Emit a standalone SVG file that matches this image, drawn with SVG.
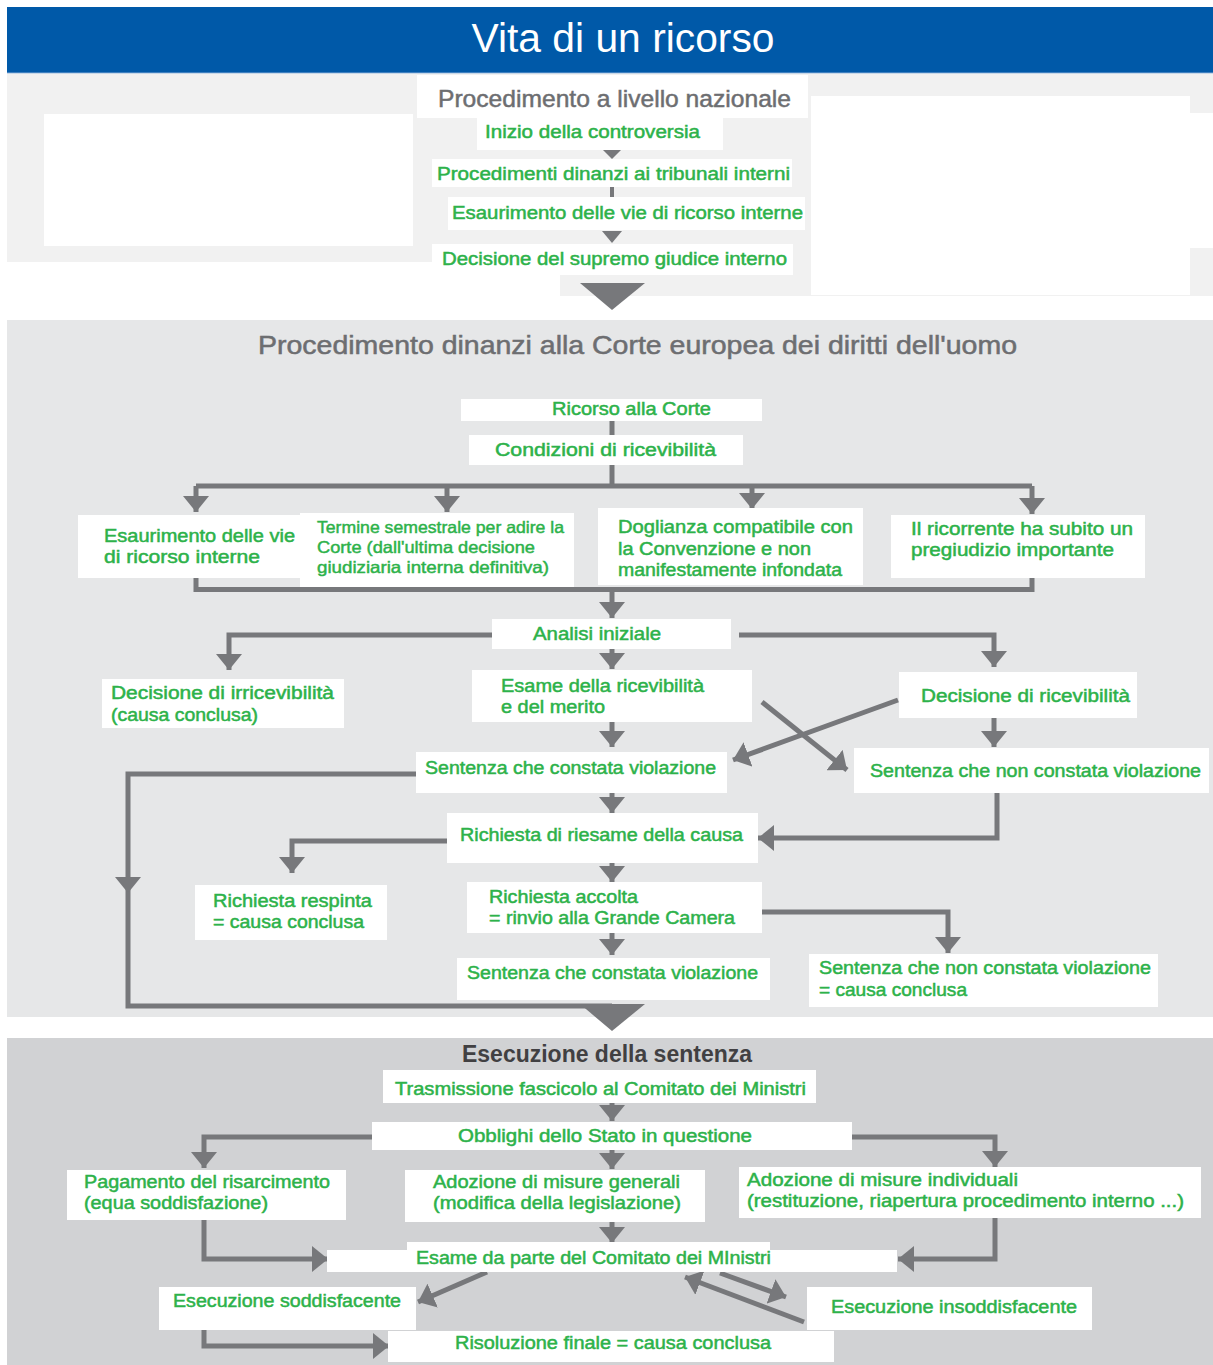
<svg xmlns="http://www.w3.org/2000/svg" width="1213" height="1365" viewBox="0 0 1213 1365">
<defs>
<style>
.box{fill:#ffffff}
.t{font-family:"Liberation Sans",Arial,sans-serif;font-size:18px;fill:#2db24a;stroke:#2db24a;stroke-width:0.5}
.ts{font-family:"Liberation Sans",Arial,sans-serif;font-size:16.5px;fill:#2db24a;stroke:#2db24a;stroke-width:0.45}
.h{font-family:"Liberation Sans",Arial,sans-serif;fill:#6d6e71;stroke:#6d6e71;stroke-width:0.5}
.c{fill:none;stroke:#77787b;stroke-width:5}
.ah{fill:#77787b}
</style>
<marker id="arr" markerUnits="userSpaceOnUse" viewBox="0 0 16 26" markerWidth="16" markerHeight="26" refX="16" refY="13" orient="auto">
<path d="M0,0 L16,13 L0,26 z" fill="#77787b"/>
</marker>
</defs>

<!-- backgrounds -->
<rect x="0" y="0" width="1213" height="1365" fill="#ffffff"/>
<rect x="7" y="7" width="1206" height="65" fill="#0059a8"/>
<rect x="7" y="72" width="1206" height="1.5" fill="#3f80c0"/>
<rect x="7" y="73.5" width="1206" height="188.5" fill="#f1f1f1"/>
<rect x="560" y="262" width="653" height="34" fill="#f1f1f1"/>
<rect x="44" y="114" width="369" height="132" fill="#ffffff"/>
<rect x="811" y="96" width="379" height="199" fill="#ffffff"/>
<rect x="1190" y="113" width="23" height="135" fill="#ffffff"/>
<rect x="7" y="320" width="1206" height="697" fill="#e6e7e8"/>
<rect x="7" y="1038" width="1206" height="327" fill="#d1d2d4"/>

<text x="623" y="52" text-anchor="middle" font-family="'Liberation Sans',Arial,sans-serif" font-size="40" fill="#ffffff" textLength="303" lengthAdjust="spacingAndGlyphs">Vita di un ricorso</text>

<!-- connectors -->
<g id="connectors">
<polygon class="ah" points="603,150 621,150 612,159"/>
<rect class="ah" x="610" y="187" width="4" height="11"/>
<polygon class="ah" points="602,231 622,231 612,243"/>
<polygon class="ah" points="580,283 645,283 612,310"/>

<path class="c" d="M612,420 V436"/>
<path class="c" d="M612,465 V486"/>
<path class="c" d="M196,486 H1032"/>
<path class="c" d="M196,486 V512" marker-end="url(#arr)"/>
<path class="c" d="M447,486 V512" marker-end="url(#arr)"/>
<path class="c" d="M752,486 V509" marker-end="url(#arr)"/>
<path class="c" d="M1032,486 V514" marker-end="url(#arr)"/>
<path class="c" d="M196,577 V589.5 H1032 V577"/>
<path class="c" d="M612,589 V618" marker-end="url(#arr)"/>
<path class="c" d="M492,635 H229 V670" marker-end="url(#arr)"/>
<path class="c" d="M739,635 H994 V667" marker-end="url(#arr)"/>
<path class="c" d="M612,648 V669" marker-end="url(#arr)"/>
<path class="c" d="M612,722 V747" marker-end="url(#arr)"/>
<path class="c" d="M994,717 V747" marker-end="url(#arr)"/>
<path class="c" d="M762,702 L847,770" marker-end="url(#arr)"/>
<path class="c" d="M898,700 L733,760" marker-end="url(#arr)"/>
<path class="c" d="M416,774 H128 V1006 H612"/>
<polygon class="ah" points="115,877 141,877 128,893"/>
<path class="c" d="M612,792 V813" marker-end="url(#arr)"/>
<path class="c" d="M997,792 V838 H758" marker-end="url(#arr)"/>
<path class="c" d="M447,841 H292 V873" marker-end="url(#arr)"/>
<path class="c" d="M612,862 V882" marker-end="url(#arr)"/>
<path class="c" d="M762,912 H948 V953" marker-end="url(#arr)"/>
<path class="c" d="M612,932 V955" marker-end="url(#arr)"/>
<polygon class="ah" points="580,1004 645,1004 612,1031"/>

<path class="c" d="M612,1102 V1121" marker-end="url(#arr)"/>
<path class="c" d="M372,1137 H204 V1168" marker-end="url(#arr)"/>
<path class="c" d="M852,1137 H995 V1167" marker-end="url(#arr)"/>
<path class="c" d="M612,1149 V1169" marker-end="url(#arr)"/>
<path class="c" d="M612,1221 V1243" marker-end="url(#arr)"/>
<path class="c" d="M204,1219 V1259 H328" marker-end="url(#arr)"/>
<path class="c" d="M995,1217 V1259 H898" marker-end="url(#arr)"/>
<path class="c" d="M487,1272 L418,1302" marker-end="url(#arr)"/>
<path class="c" d="M720,1273 L786,1297" marker-end="url(#arr)"/>
<path class="c" d="M804,1322 L685,1277" marker-end="url(#arr)"/>
<path class="c" d="M204,1329 V1346 H389" marker-end="url(#arr)"/>
</g>

<!-- Section 1 -->
<g id="head-nazionale">
<rect class="box" x="417" y="75" width="391" height="43"/>
<text class="h" x="438" y="107" font-size="24.5" textLength="353" lengthAdjust="spacingAndGlyphs">Procedimento a livello nazionale</text>
</g>
<g id="n-inizio">
<rect class="box" x="477" y="118" width="246" height="32"/>
<text class="t" x="485" y="138" textLength="215" lengthAdjust="spacingAndGlyphs">Inizio della controversia</text>
</g>
<g id="n-procedimenti">
<rect class="box" x="432" y="159" width="360" height="28"/>
<text class="t" x="437" y="180" textLength="353" lengthAdjust="spacingAndGlyphs">Procedimenti dinanzi ai tribunali interni</text>
</g>
<g id="n-esaurimento1">
<rect class="box" x="448" y="197" width="357" height="33"/>
<text class="t" x="452" y="219" textLength="351" lengthAdjust="spacingAndGlyphs">Esaurimento delle vie di ricorso interne</text>
</g>
<g id="n-decisione-supremo">
<rect class="box" x="432" y="244" width="361" height="31"/>
<text class="t" x="442" y="265" textLength="345" lengthAdjust="spacingAndGlyphs">Decisione del supremo giudice interno</text>
</g>

<!-- Section 2 -->
<g id="head-corte">
<text class="h" x="258" y="354" font-size="25" textLength="759" lengthAdjust="spacingAndGlyphs">Procedimento dinanzi alla Corte europea dei diritti dell'uomo</text>
</g>
<g id="n-ricorso">
<rect class="box" x="461" y="399" width="301" height="22"/>
<text class="t" x="552" y="415" textLength="159" lengthAdjust="spacingAndGlyphs">Ricorso alla Corte</text>
</g>
<g id="n-condizioni">
<rect class="box" x="469" y="435" width="274" height="30"/>
<text class="t" x="495" y="456" textLength="221" lengthAdjust="spacingAndGlyphs">Condizioni di ricevibilità</text>
</g>
<g id="n-esaurimento2">
<rect class="box" x="78" y="515" width="222" height="63"/>
<text class="t" x="104" y="542" textLength="191" lengthAdjust="spacingAndGlyphs">Esaurimento delle vie</text>
<text class="t" x="104" y="563" textLength="156" lengthAdjust="spacingAndGlyphs">di ricorso interne</text>
</g>
<g id="n-termine">
<rect class="box" x="300" y="513" width="274" height="74"/>
<text class="ts" x="317" y="533" textLength="247" lengthAdjust="spacingAndGlyphs">Termine semestrale per adire la</text>
<text class="ts" x="317" y="553" textLength="218" lengthAdjust="spacingAndGlyphs">Corte (dall'ultima decisione</text>
<text class="ts" x="317" y="573" textLength="232" lengthAdjust="spacingAndGlyphs">giudiziaria interna definitiva)</text>
</g>
<g id="n-doglianza">
<rect class="box" x="598" y="508" width="265" height="77"/>
<text class="t" x="618" y="533" textLength="235" lengthAdjust="spacingAndGlyphs">Doglianza compatibile con</text>
<text class="t" x="618" y="555" textLength="193" lengthAdjust="spacingAndGlyphs">la Convenzione e non</text>
<text class="t" x="618" y="576" textLength="224" lengthAdjust="spacingAndGlyphs">manifestamente infondata</text>
</g>
<g id="n-ricorrente">
<rect class="box" x="891" y="515" width="254" height="63"/>
<text class="t" x="911" y="535" textLength="222" lengthAdjust="spacingAndGlyphs">Il ricorrente ha subito un</text>
<text class="t" x="911" y="556" textLength="203" lengthAdjust="spacingAndGlyphs">pregiudizio importante</text>
</g>
<g id="n-analisi">
<rect class="box" x="492" y="619" width="239" height="30"/>
<text class="t" x="533" y="640" textLength="128" lengthAdjust="spacingAndGlyphs">Analisi iniziale</text>
</g>
<g id="n-irricevibilita">
<rect class="box" x="102" y="679" width="242" height="49"/>
<text class="t" x="111" y="699" textLength="223" lengthAdjust="spacingAndGlyphs">Decisione di irricevibilità</text>
<text class="t" x="111" y="721" textLength="147" lengthAdjust="spacingAndGlyphs">(causa conclusa)</text>
</g>
<g id="n-esame">
<rect class="box" x="472" y="670" width="280" height="52"/>
<text class="t" x="501" y="692" textLength="203" lengthAdjust="spacingAndGlyphs">Esame della ricevibilità</text>
<text class="t" x="501" y="713" textLength="104" lengthAdjust="spacingAndGlyphs">e del merito</text>
</g>
<g id="n-ricevibilita">
<rect class="box" x="899" y="672" width="238" height="46"/>
<text class="t" x="921" y="702" textLength="209" lengthAdjust="spacingAndGlyphs">Decisione di ricevibilità</text>
</g>
<g id="n-sentenza-viol">
<rect class="box" x="416" y="752" width="311" height="41"/>
<text class="t" x="425" y="774" textLength="291" lengthAdjust="spacingAndGlyphs">Sentenza che constata violazione</text>
</g>
<g id="n-sentenza-nonviol">
<rect class="box" x="854" y="748" width="355" height="45"/>
<text class="t" x="870" y="777" textLength="331" lengthAdjust="spacingAndGlyphs">Sentenza che non constata violazione</text>
</g>
<g id="n-riesame">
<rect class="box" x="447" y="813" width="311" height="50"/>
<text class="t" x="460" y="841" textLength="283" lengthAdjust="spacingAndGlyphs">Richiesta di riesame della causa</text>
</g>
<g id="n-respinta">
<rect class="box" x="195" y="885" width="192" height="55"/>
<text class="t" x="213" y="907" textLength="159" lengthAdjust="spacingAndGlyphs">Richiesta respinta</text>
<text class="t" x="213" y="928" textLength="151" lengthAdjust="spacingAndGlyphs">= causa conclusa</text>
</g>
<g id="n-accolta">
<rect class="box" x="467" y="882" width="295" height="51"/>
<text class="t" x="489" y="903" textLength="149" lengthAdjust="spacingAndGlyphs">Richiesta accolta</text>
<text class="t" x="489" y="924" textLength="246" lengthAdjust="spacingAndGlyphs">= rinvio alla Grande Camera</text>
</g>
<g id="n-sentenza-viol2">
<rect class="box" x="457" y="958" width="313" height="42"/>
<text class="t" x="467" y="979" textLength="291" lengthAdjust="spacingAndGlyphs">Sentenza che constata violazione</text>
</g>
<g id="n-sentenza-nonviol2">
<rect class="box" x="809" y="954" width="349" height="53"/>
<text class="t" x="819" y="974" textLength="332" lengthAdjust="spacingAndGlyphs">Sentenza che non constata violazione</text>
<text class="t" x="819" y="996" textLength="148" lengthAdjust="spacingAndGlyphs">= causa conclusa</text>
</g>

<!-- Section 3 -->
<g id="head-esecuzione">
<text x="462" y="1062" font-family="'Liberation Sans',Arial,sans-serif" font-size="23" font-weight="bold" fill="#414042" textLength="290" lengthAdjust="spacingAndGlyphs">Esecuzione della sentenza</text>
</g>
<g id="n-trasmissione">
<rect class="box" x="383" y="1070" width="433" height="33"/>
<text class="t" x="395" y="1095" textLength="411" lengthAdjust="spacingAndGlyphs">Trasmissione fascicolo al Comitato dei Ministri</text>
</g>
<g id="n-obblighi">
<rect class="box" x="372" y="1122" width="480" height="28"/>
<text class="t" x="458" y="1142" textLength="294" lengthAdjust="spacingAndGlyphs">Obblighi dello Stato in questione</text>
</g>
<g id="n-pagamento">
<rect class="box" x="67" y="1170" width="279" height="50"/>
<text class="t" x="84" y="1188" textLength="246" lengthAdjust="spacingAndGlyphs">Pagamento del risarcimento</text>
<text class="t" x="84" y="1209" textLength="184" lengthAdjust="spacingAndGlyphs">(equa soddisfazione)</text>
</g>
<g id="n-generali">
<rect class="box" x="405" y="1170" width="300" height="52"/>
<text class="t" x="433" y="1188" textLength="247" lengthAdjust="spacingAndGlyphs">Adozione di misure generali</text>
<text class="t" x="433" y="1209" textLength="248" lengthAdjust="spacingAndGlyphs">(modifica della legislazione)</text>
</g>
<g id="n-individuali">
<rect class="box" x="739" y="1167" width="462" height="51"/>
<text class="t" x="747" y="1186" textLength="271" lengthAdjust="spacingAndGlyphs">Adozione di misure individuali</text>
<text class="t" x="747" y="1207" textLength="437" lengthAdjust="spacingAndGlyphs">(restituzione, riapertura procedimento interno ...)</text>
</g>
<g id="n-esame-comitato">
<rect class="box" x="407" y="1242" width="363" height="30"/>
<rect class="box" x="327" y="1250" width="570" height="22"/>
<text class="t" x="416" y="1264" textLength="355" lengthAdjust="spacingAndGlyphs">Esame da parte del Comitato dei MInistri</text>
</g>
<g id="n-soddisfacente">
<rect class="box" x="159" y="1287" width="257" height="43"/>
<text class="t" x="173" y="1307" textLength="228" lengthAdjust="spacingAndGlyphs">Esecuzione soddisfacente</text>
</g>
<g id="n-insoddisfacente">
<rect class="box" x="807" y="1287" width="285" height="43"/>
<text class="t" x="831" y="1313" textLength="246" lengthAdjust="spacingAndGlyphs">Esecuzione insoddisfacente</text>
</g>
<g id="n-risoluzione">
<rect class="box" x="388" y="1331" width="446" height="31"/>
<text class="t" x="455" y="1349" textLength="316" lengthAdjust="spacingAndGlyphs">Risoluzione finale = causa conclusa</text>
</g>
</svg>
